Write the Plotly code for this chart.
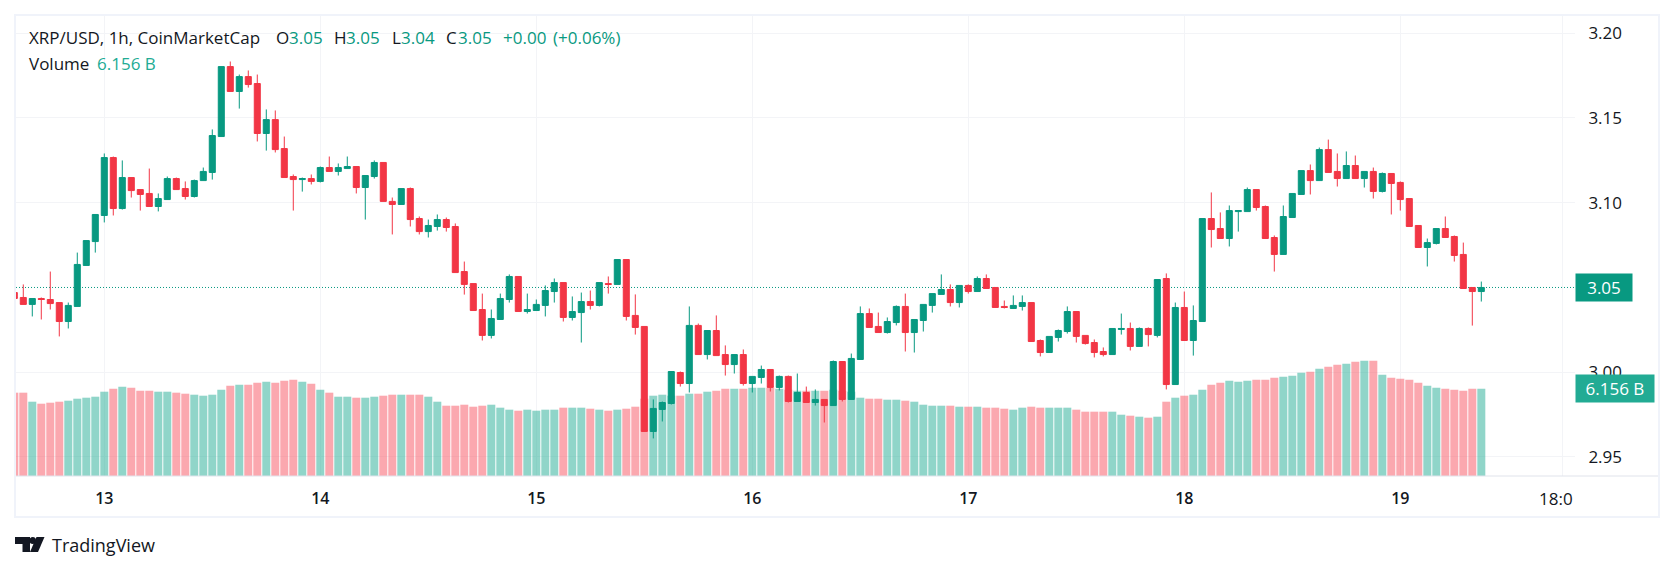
import pandas as pd
import plotly.graph_objects as go

# Hourly XRP/USD candles, 2025-08-12 14:00 onward
open_prices = [
    3.0469,3.0440,3.0399,3.0434,3.0428,3.0410,3.0298,3.0387,3.0629,3.0770,
    3.0924,3.1266,3.0965,3.1148,3.1077,3.1054,3.0977,3.1018,3.1142,3.1083,
    3.1036,3.1130,3.1178,3.1390,3.1803,3.1656,3.1744,3.1703,3.1408,3.1490,
    3.1319,3.1154,3.1136,3.1142,3.1125,3.1207,3.1184,3.1201,3.1213,3.1089,
    3.1154,3.1237,3.1007,3.0989,3.1083,3.0906,3.0829,3.0859,3.0900,3.0859,
    3.0593,3.0522,3.0369,3.0216,3.0310,3.0428,3.0564,3.0357,3.0363,3.0393,
    3.0475,3.0528,3.0322,3.0351,3.0416,3.0393,3.0522,3.0517,3.0664,3.0334,
    3.0269,2.9649,2.9779,2.9814,2.9997,2.9932,3.0275,3.0103,3.0245,3.0103,
    3.0044,3.0103,2.9932,2.9968,3.0015,2.9909,2.9974,2.9826,2.9879,2.9820,
    2.9838,2.9802,3.0062,2.9838,3.0074,3.0345,3.0269,3.0233,3.0292,3.0387,
    3.0233,3.0304,3.0393,3.0458,3.0487,3.0410,3.0511,3.0475,3.0552,3.0499,
    3.0387,3.0375,3.0387,3.0410,3.0186,3.0115,3.0204,3.0239,3.0357,3.0216,
    3.0174,3.0121,3.0103,3.0251,3.0257,3.0151,3.0257,3.0216,3.0552,2.9926,
    3.0381,3.0186,3.0298,3.0906,3.0847,3.0788,3.0947,3.0947,3.1077,3.0977,
    3.0794,3.0694,3.0912,3.1048,3.1189,3.1130,3.1313,3.1184,3.1142,3.1219,
    3.1142,3.1184,3.1066,3.1172,3.1119,3.1024,3.0865,3.0735,3.0759,3.0847,
    3.0800,3.0694,3.0499,3.0475,
]
high_prices = [
    3.0469,3.0517,3.0434,3.0440,3.0593,3.0410,3.0410,3.0705,3.0776,3.0930,
    3.1290,3.1272,3.1249,3.1148,3.1077,3.1201,3.1054,3.1154,3.1148,3.1125,
    3.1136,3.1207,3.1432,3.1803,3.1833,3.1756,3.1780,3.1756,3.1550,3.1544,
    3.1390,3.1166,3.1148,3.1166,3.1213,3.1272,3.1231,3.1272,3.1213,3.1160,
    3.1249,3.1237,3.1030,3.1083,3.1089,3.0918,3.0900,3.0930,3.0912,3.0877,
    3.0652,3.0522,3.0463,3.0369,3.0463,3.0576,3.0564,3.0463,3.0428,3.0511,
    3.0552,3.0528,3.0446,3.0469,3.0481,3.0528,3.0564,3.0664,3.0664,3.0458,
    3.0269,2.9838,2.9826,3.0003,3.0003,3.0387,3.0286,3.0245,3.0334,3.0157,
    3.0103,3.0133,2.9974,3.0038,3.0015,2.9979,2.9979,2.9991,2.9914,2.9897,
    2.9838,3.0068,3.0062,3.0109,3.0387,3.0375,3.0351,3.0322,3.0393,3.0463,
    3.0310,3.0399,3.0463,3.0576,3.0517,3.0511,3.0517,3.0564,3.0576,3.0499,
    3.0422,3.0452,3.0452,3.0410,3.0192,3.0210,3.0251,3.0387,3.0357,3.0216,
    3.0192,3.0145,3.0257,3.0345,3.0292,3.0263,3.0263,3.0546,3.0582,3.0410,
    3.0475,3.0393,3.0906,3.1060,3.0942,3.0983,3.0953,3.1089,3.1077,3.0983,
    3.0806,3.0983,3.1054,3.1189,3.1225,3.1325,3.1372,3.1290,3.1302,3.1278,
    3.1184,3.1207,3.1178,3.1172,3.1125,3.1024,3.0865,3.0788,3.0847,3.0918,
    3.0806,3.0764,3.0499,3.0534,
]
low_prices = [
    3.0434,3.0399,3.0328,3.0310,3.0369,3.0210,3.0257,3.0387,3.0629,3.0705,
    3.0883,3.0924,3.0959,3.1030,3.0953,3.0977,3.0948,3.1018,3.1077,3.1018,
    3.1030,3.1130,3.1136,3.1390,3.1656,3.1555,3.1679,3.1361,3.1307,3.1296,
    3.1148,3.0953,3.1065,3.1107,3.1119,3.1184,3.1160,3.1201,3.1054,3.0900,
    3.1142,3.1007,3.0812,3.0989,3.0859,3.0812,3.0794,3.0835,3.0829,3.0587,
    3.0457,3.0363,3.0186,3.0198,3.0310,3.0410,3.0357,3.0345,3.0363,3.0328,
    3.0410,3.0298,3.0304,3.0174,3.0369,3.0387,3.0463,3.0517,3.0304,3.0221,
    2.9649,2.9608,2.9708,2.9808,2.9914,2.9879,3.0103,3.0074,3.0097,2.9979,
    2.9991,2.9920,2.9879,2.9932,2.9885,2.9891,2.9820,2.9826,2.9820,2.9802,
    2.9702,2.9802,2.9826,2.9838,3.0074,3.0263,3.0233,3.0227,3.0275,3.0121,
    3.0115,3.0239,3.0351,3.0458,3.0387,3.0381,3.0463,3.0475,3.0493,3.0381,
    3.0375,3.0375,3.0363,3.0180,3.0092,3.0115,3.0180,3.0227,3.0174,3.0162,
    3.0086,3.0092,3.0103,3.0221,3.0127,3.0151,3.0151,3.0204,2.9897,2.9926,
    3.0186,3.0097,3.0298,3.0735,3.0788,3.0741,3.0829,3.0947,3.0953,3.0788,
    3.0593,3.0694,3.0912,3.1048,3.1048,3.1130,3.1178,3.1095,3.1142,3.1142,
    3.1089,3.1024,3.1060,3.0930,3.0953,3.0859,3.0735,3.0623,3.0753,3.0794,
    3.0652,3.0493,3.0274,3.0416,
]
close_prices = [
    3.0434,3.0399,3.0434,3.0428,3.0404,3.0298,3.0393,3.0635,3.0776,3.0930,
    3.1266,3.0965,3.1148,3.1071,3.1048,3.0977,3.1024,3.1142,3.1077,3.1036,
    3.1130,3.1184,3.1396,3.1803,3.1656,3.1744,3.1697,3.1408,3.1490,3.1313,
    3.1148,3.1136,3.1142,3.1125,3.1207,3.1184,3.1207,3.1213,3.1089,3.1160,
    3.1237,3.1007,3.0989,3.1083,3.0900,3.0829,3.0865,3.0900,3.0853,3.0587,
    3.0517,3.0363,3.0216,3.0316,3.0434,3.0564,3.0357,3.0369,3.0399,3.0481,
    3.0528,3.0322,3.0357,3.0416,3.0393,3.0528,3.0517,3.0664,3.0328,3.0263,
    2.9649,2.9785,2.9820,3.0003,2.9932,3.0275,3.0103,3.0245,3.0097,3.0044,
    3.0103,2.9932,2.9974,3.0015,2.9909,2.9974,2.9826,2.9879,2.9820,2.9838,
    2.9802,3.0062,2.9838,3.0080,3.0345,3.0263,3.0233,3.0298,3.0387,3.0233,
    3.0310,3.0399,3.0463,3.0487,3.0410,3.0511,3.0475,3.0552,3.0493,3.0381,
    3.0381,3.0393,3.0410,3.0180,3.0115,3.0210,3.0245,3.0357,3.0210,3.0168,
    3.0115,3.0103,3.0257,3.0257,3.0151,3.0257,3.0221,3.0546,2.9926,3.0381,
    3.0186,3.0304,3.0906,3.0841,3.0788,3.0953,3.0953,3.1077,3.0971,3.0788,
    3.0694,3.0918,3.1054,3.1189,3.1130,3.1313,3.1178,3.1142,3.1219,3.1142,
    3.1184,3.1066,3.1172,3.1113,3.1018,3.0859,3.0735,3.0764,3.0847,3.0794,
    3.0688,3.0493,3.0475,3.0499,
]
# Hourly volume, in billions
volume_b = [
    5.875,5.875,5.240,5.099,5.169,5.240,5.310,5.451,5.522,5.592,
    5.945,6.157,6.298,6.227,6.015,6.015,5.945,5.945,5.875,5.804,
    5.733,5.663,5.733,6.086,6.368,6.439,6.439,6.580,6.650,6.580,
    6.721,6.791,6.650,6.509,6.086,5.875,5.592,5.592,5.522,5.522,
    5.592,5.663,5.733,5.733,5.733,5.733,5.592,5.240,4.958,4.958,
    5.028,4.887,4.958,5.028,4.817,4.676,4.605,4.676,4.605,4.676,
    4.676,4.817,4.817,4.817,4.746,4.676,4.605,4.676,4.746,4.887,
    5.451,5.663,5.733,5.663,5.663,5.804,5.804,5.945,6.015,6.157,
    6.157,6.157,6.227,6.227,6.227,6.157,6.086,6.015,6.015,6.015,
    6.015,6.086,6.015,5.945,5.522,5.451,5.451,5.381,5.381,5.310,
    5.240,5.028,4.958,4.958,4.958,4.887,4.887,4.887,4.817,4.817,
    4.746,4.676,4.817,4.887,4.817,4.817,4.817,4.817,4.676,4.535,
    4.535,4.535,4.535,4.323,4.252,4.182,4.111,4.182,5.240,5.522,
    5.663,5.733,6.086,6.439,6.580,6.721,6.650,6.721,6.791,6.791,
    6.932,7.003,7.073,7.285,7.355,7.567,7.708,7.849,7.920,8.061,
    8.131,8.131,7.144,6.932,6.862,6.791,6.580,6.368,6.227,6.157,
    6.086,6.015,6.157,6.156,
]
times = pd.date_range("2025-08-12 14:00", periods=len(close_prices), freq="h")

day_ticks = ["2025-08-13", "2025-08-14", "2025-08-15", "2025-08-16",
             "2025-08-17", "2025-08-18", "2025-08-19", "2025-08-19 18:00"]
day_labels = ["13", "14", "15", "16", "17", "18", "19", ""]
# 3.05 is carried by the last-price line and its tag
price_ticks = [2.95, 3.00, 3.10, 3.15, 3.20]
price_labels = ["2.95", "3.00", "3.10", "3.15", "3.20"]

UP = "#089981"
DOWN = "#F23645"
VOL_UP = "rgba(34,171,148,0.5)"
VOL_DOWN = "rgba(247,82,95,0.5)"
TEXT = "#131722"
GRID = "#f3f4f7"
FONT = "Open Sans"
last_close = close_prices[-1]
last_volume = volume_b[-1]

WIDTH, HEIGHT = 1674, 571
LEFT, RIGHT, TOP, BOTTOM = 16, 1575, 16, 476


def paper_x(px):
    return (px - LEFT) / (RIGHT - LEFT)


def paper_y(py):
    return (BOTTOM - py) / (BOTTOM - TOP)


def caption(px, py, text, color=TEXT, size=17, anchor="left"):
    return dict(xref="paper", yref="paper", x=paper_x(px), y=paper_y(py),
                xanchor=anchor, yanchor="middle", text=text, showarrow=False,
                font=dict(family=FONT, size=size, color=color))


fig = go.Figure()

# Volume sits on the base axis so that the candles draw over it
fig.add_trace(go.Bar(
    x=times, y=volume_b, width=3.2e6, yaxis="y", hoverinfo="skip",
    marker=dict(color=[VOL_UP if c >= o else VOL_DOWN
                       for o, c in zip(open_prices, close_prices)],
                line=dict(width=0)),
))
fig.add_trace(go.Candlestick(
    x=times, open=open_prices, high=high_prices, low=low_prices, close=close_prices,
    yaxis="y2", whiskerwidth=0,
    increasing=dict(line=dict(color=UP, width=1), fillcolor=UP),
    decreasing=dict(line=dict(color=DOWN, width=1), fillcolor=DOWN),
))

header = [
    (27, "XRP/USD, 1h, CoinMarketCap", TEXT),
    (274, "O", TEXT), (287, "3.05", UP),
    (332, "H", TEXT), (344, "3.05", UP),
    (390, "L", TEXT), (399, "3.04", UP),
    (444, "C", TEXT), (456, "3.05", UP),
    (501, "+0.00", UP), (551, "(+0.06%)", UP),
]
annotations = [caption(px, 38, t, c) for px, t, c in header]
annotations += [
    caption(27, 64, "Volume"),
    caption(95, 64, "6.156 B", "#22AB94"),
    caption(1575, 498, "18:0", anchor="right"),
    caption(50, 545, "TradingView", size=18),
    # Last-value tags on the price scale
    dict(xref="paper", yref="y2", x=paper_x(1575), y=last_close, xanchor="left",
         yanchor="middle", width=56, height=27, bgcolor=UP, borderpad=0,
         text="3.05", showarrow=False,
         font=dict(family=FONT, size=17, color="white")),
    dict(xref="paper", yref="y", x=paper_x(1575), y=last_volume, xanchor="left",
         yanchor="middle", width=78, height=27, bgcolor="#22AB94", borderpad=0,
         text="6.156 B", showarrow=False,
         font=dict(family=FONT, size=17, color="white")),
]

shapes = [
    # Outer frame and the line above the time scale
    dict(type="rect", xref="paper", yref="paper", x0=paper_x(15), x1=paper_x(1659),
         y0=paper_y(517), y1=paper_y(15), line=dict(color="#f0f3fa", width=2)),
    dict(type="line", xref="paper", yref="paper", x0=0, x1=paper_x(1658),
         y0=0, y1=0, line=dict(color="#e0e3eb", width=1)),
    # Last price
    dict(type="line", xref="paper", yref="y2", x0=0, x1=1, y0=last_close, y1=last_close,
         layer="below", line=dict(color=UP, width=1, dash="1px,2px")),
    # Logo mark
    dict(type="path", xref="paper", yref="paper", fillcolor=TEXT, line=dict(width=0),
         path=" ".join(f"{c}{paper_x(x):.5f},{paper_y(y):.5f}" for c, x, y in [
             ("M", 15, 537), ("L", 30, 537), ("L", 30, 552), ("L", 22.5, 552),
             ("L", 22.5, 544), ("L", 15, 544)]) + " Z"),
    dict(type="circle", xref="paper", yref="paper", fillcolor=TEXT, line=dict(width=0),
         x0=paper_x(29.5), x1=paper_x(36), y0=paper_y(544), y1=paper_y(537)),
    dict(type="path", xref="paper", yref="paper", fillcolor=TEXT, line=dict(width=0),
         path=" ".join(f"{c}{paper_x(x):.5f},{paper_y(y):.5f}" for c, x, y in [
             ("M", 36.5, 537), ("L", 44.5, 537), ("L", 38, 552), ("L", 30, 552)]) + " Z"),
]

fig.update_layout(
    width=WIDTH, height=HEIGHT, autosize=False,
    margin=dict(l=LEFT, r=WIDTH - RIGHT, t=TOP, b=HEIGHT - BOTTOM, pad=0),
    paper_bgcolor="white", plot_bgcolor="white",
    showlegend=False, boxgap=0.33, boxgroupgap=0, barmode="overlay",
    font=dict(family=FONT, color=TEXT, size=14),
    annotations=annotations, shapes=shapes,
    xaxis=dict(
        type="date", range=["2025-08-12 14:11:24", "2025-08-19 19:24:36"],
        rangeslider=dict(visible=False), showline=False, zeroline=False,
        tickmode="array", tickvals=day_ticks, ticktext=day_labels,
        showgrid=True, gridcolor=GRID, gridwidth=1,
        ticks="outside", ticklen=8, tickcolor="rgba(0,0,0,0)",
        tickfont=dict(family=FONT, size=16, color=TEXT, weight=600),
    ),
    yaxis=dict(range=[0, 32.44], visible=False, showgrid=False, zeroline=False,
               fixedrange=True),
    yaxis2=dict(
        overlaying="y", side="right", anchor="x", range=[2.93861, 3.21016],
        tickmode="array", tickvals=price_ticks, ticktext=price_labels,
        showgrid=True, gridcolor=GRID, gridwidth=1, zeroline=False, showline=False,
        ticks="outside", ticklen=9, tickcolor="rgba(0,0,0,0)",
        tickfont=dict(family=FONT, size=17, color=TEXT),
    ),
)

fig.write_html("out.html")
